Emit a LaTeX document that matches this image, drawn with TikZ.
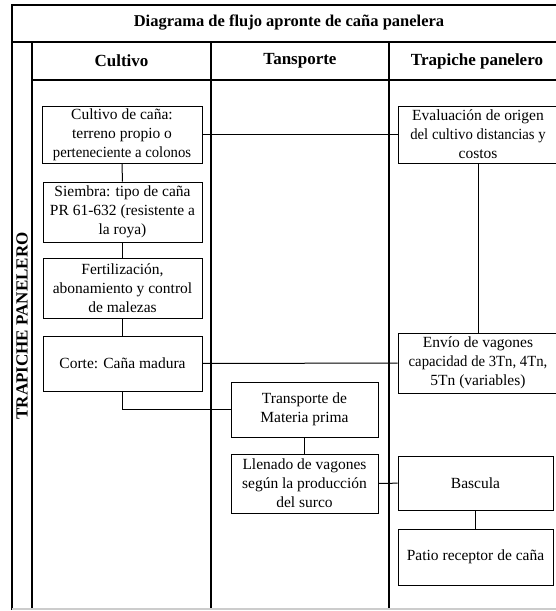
\documentclass[tikz,border=0pt]{standalone}
\usepackage{fontspec}
\usepackage{graphicx}
\setmainfont{Liberation Serif}
\newcommand{\squeeze}[1]{\scalebox{0.95}[1]{#1}}

\tikzstyle{line} = [draw, line width=1pt]
\tikzstyle{frame} = [draw, line width=1.3pt]
\tikzstyle{box} = [draw, line width=1pt, rectangle, align=center, inner sep=1pt, font=\fontsize{15.5}{19}\selectfont]
\tikzstyle{head} = [font=\fontsize{17}{20}\selectfont\bfseries]

\begin{document}
\begin{tikzpicture}[x=1pt,y=-1pt]
\useasboundingbox (0,0) rectangle (556,611);
\clip (0,0) rectangle (556,611);
%frame
\path [frame] (12,5) rectangle (566,609);
\path [frame] (12,42) -- (566,42);
\path [frame] (32,80) -- (566,80);
\path [frame] (32,42) -- (32,609);
\path [frame] (211,42) -- (211,609);
\path [frame] (389,42) -- (389,609);
\draw[gray!40, line width=1.3pt] (12,609) -- (566,609);

\node[head, font=\fontsize{16.5}{20}\selectfont\bfseries] (title) at (289,23) {Diagrama de flujo apronte de caña panelera};%
\node[head] (hcultivo) at (121.5,61) {Cultivo};%
\node[head] (htransporte) at (300,61) {Tansporte};%
\node[head] (htrapiche) at (477,61) {Trapiche panelero};%
\node[head, rotate=90] (lane) at (22,326) {TRAPICHE PANELERO};%

%cultivo
\node[box, minimum width=160pt, minimum height=57pt] (cultivo) at (122,134.5) {Cultivo de caña:\\terreno propio o\\\squeeze{perteneciente a colonos}};%
\node[box, minimum width=159pt, minimum height=60pt] (siembra) at (122.5,212) {Siembra: tipo de caña\\PR 61-632 (resistente a\\la roya)};%
\node[box, minimum width=159pt, minimum height=60pt] (fert) at (122.5,288) {Fertilización,\\abonamiento y control\\de malezas};%
\node[box, minimum width=159pt, minimum height=55pt] (corte) at (122.5,363.5) {Corte: Caña madura};%

%transporte
\node[box, minimum width=147pt, minimum height=55pt] (transp) at (304.5,409.5) {Transporte de\\Materia prima};%
\node[box, minimum width=147pt, minimum height=59pt] (llenado) at (304.5,483.5) {Llenado de vagones\\según la producción\\del surco};%

%trapiche
\node[box, minimum width=160pt, minimum height=57pt] (eval) at (478,134.5) {Evaluación de origen\\\squeeze{del cultivo distancias y}\\costos};%
\node[box, minimum width=160pt, minimum height=60pt] (envio) at (478,363) {Envío de vagones\\\squeeze{capacidad de 3Tn, 4Tn,}\\5Tn (variables)};%
\node[box, minimum width=155pt, minimum height=54pt] (bascula) at (475.5,483) {Bascula};%
\node[box, minimum width=155pt, minimum height=56pt] (patio) at (475.5,557) {Patio receptor de caña};%

%lines
\path [line] (cultivo) -- (eval);
\path [line] (cultivo) -- (siembra);
\path [line] (siembra) -- (fert);
\path [line] (fert) -- (corte);
\path [line] (corte) -- (envio);
\path [line] (eval) -- (envio);
\path [line] (corte.south) |- (transp.west);
\path [line] (transp) -- (llenado);
\path [line] (llenado) -- (bascula);
\path [line] (bascula) -- (patio);
\end{tikzpicture}
\end{document}
